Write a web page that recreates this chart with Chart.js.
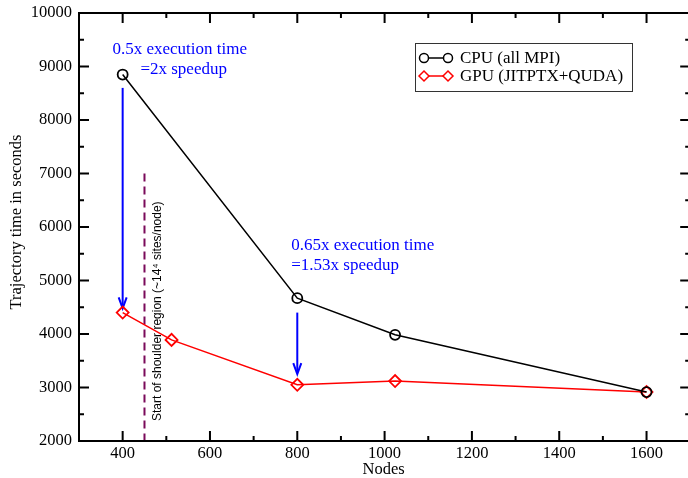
<!DOCTYPE html>
<html><head><meta charset="utf-8">
<script src="https://cdn.jsdelivr.net/npm/chart.js@4/dist/chart.umd.min.js"></script>
<style>html,body{margin:0;padding:0;background:#fff;overflow:hidden}#wrap{width:698px;height:478px}</style>
</head><body><div id="wrap"><canvas id="c" width="698" height="478"></canvas></div>
<script>
const nodesCPU = [400, 800, 1024, 1600];
const timeCPU = [8850, 4670, 3985, 2915];
const nodesGPU = [400, 512, 800, 1024, 1600];
const timeGPU = [4400, 3890, 3050, 3120, 2915];
const xTickValues = [400, 600, 800, 1000, 1200, 1400, 1600];
const yTickValues = [2000, 3000, 4000, 5000, 6000, 7000, 8000, 9000, 10000];
const seriesLabels = ['CPU (all MPI)', 'GPU (JITPTX+QUDA)'];
const xTitle = 'Nodes';
const yTitle = 'Trajectory time in seconds';
const shoulderX = 450, shoulderTop = 7000;
const shoulderText = 'Start of shoulder region (~14\u2074 sites/node)';
const arrows = [{x: 400, from: 8600, to: 4480}, {x: 800, from: 4400, to: 3250}];
const notes = [
  {x: 400, y: 9310, lines: ['0.5x execution time', '=2x speedup'], align: 'center', dx: 57},
  {x: 800, y: 5650, lines: ['0.65x execution time', '=1.53x speedup'], align: 'left', dx: -6}
];

const SERIF = '"Liberation Serif", "Times New Roman", serif';

const deco = {
  id: 'deco',
  beforeDatasetsDraw(chart) {
    const {ctx, chartArea: a, scales: {x, y}} = chart;
    ctx.save();
    // shoulder dashed line
    ctx.strokeStyle = '#7a0a5a';
    ctx.lineWidth = 2;
    ctx.setLineDash([8, 5]);
    ctx.beginPath();
    ctx.moveTo(x.getPixelForValue(shoulderX), y.getPixelForValue(shoulderTop));
    ctx.lineTo(x.getPixelForValue(shoulderX), a.bottom);
    ctx.stroke();
    ctx.setLineDash([]);
    // rotated label
    ctx.save();
    ctx.translate(x.getPixelForValue(shoulderX) + 13, a.bottom - 20);
    ctx.rotate(-Math.PI / 2);
    ctx.fillStyle = '#000';
    ctx.font = '12px "Liberation Sans", Arial, sans-serif';
    ctx.textAlign = 'left';
    ctx.textBaseline = 'middle';
    ctx.fillText(shoulderText, 0, 0);
    ctx.restore();
    // arrows
    ctx.strokeStyle = '#0000ff';
    ctx.lineWidth = 2;
    arrows.forEach(ar => {
      const px = x.getPixelForValue(ar.x);
      const y0 = y.getPixelForValue(ar.from), y1 = y.getPixelForValue(ar.to);
      ctx.beginPath(); ctx.moveTo(px, y0); ctx.lineTo(px, y1 - 2); ctx.stroke();
      ctx.beginPath();
      ctx.moveTo(px - 4, y1 - 11); ctx.lineTo(px, y1); ctx.lineTo(px + 4, y1 - 11);
      ctx.stroke();
    });
    // notes
    ctx.fillStyle = '#0000ff';
    ctx.font = '17px ' + SERIF;
    ctx.textBaseline = 'middle';
    notes.forEach(n => {
      ctx.textAlign = n.align;
      const px = x.getPixelForValue(n.x) + n.dx;
      const py = y.getPixelForValue(n.y);
      n.lines.forEach((t, i) => ctx.fillText(t, px + (i === 1 && n.align === 'center' ? 4 : 0), py + i * 19.5));
    });
    ctx.restore();
  },
  afterDraw(chart) {
    const {ctx, chartArea: a, scales: {x, y}} = chart;
    ctx.save();
    ctx.strokeStyle = '#000';
    ctx.lineWidth = 2;
    ctx.strokeRect(a.left, a.top, a.right - a.left, a.bottom - a.top);
    const tick = (v, isX, len) => {
      ctx.beginPath();
      if (isX) {
        const p = x.getPixelForValue(v);
        ctx.moveTo(p, a.bottom); ctx.lineTo(p, a.bottom - len);
        ctx.moveTo(p, a.top); ctx.lineTo(p, a.top + len);
      } else {
        const p = y.getPixelForValue(v);
        ctx.moveTo(a.left, p); ctx.lineTo(a.left + len, p);
        ctx.moveTo(a.right, p); ctx.lineTo(a.right - len, p);
      }
      ctx.stroke();
    };
    for (let v = x.min; v <= x.max; v += 100) tick(v, true, v % 200 === 0 ? 10 : 5);
    for (let v = y.min; v <= y.max; v += 500) tick(v, false, v % 1000 === 0 ? 10 : 5);
    // tick labels
    ctx.fillStyle = '#000';
    ctx.font = '16.5px ' + SERIF;
    ctx.textAlign = 'center'; ctx.textBaseline = 'middle';
    xTickValues.forEach(v => ctx.fillText(String(v), x.getPixelForValue(v), a.bottom + 13));
    ctx.textAlign = 'right';
    yTickValues.forEach(v => ctx.fillText(String(v), a.left - 7, y.getPixelForValue(v)));
    // axis titles
    ctx.textAlign = 'center';
    ctx.fillText(xTitle, x.getPixelForValue(1000) - 1, a.bottom + 29);
    ctx.save();
    ctx.translate(17, 222);
    ctx.rotate(-Math.PI / 2);
    ctx.fillText(yTitle, 0, 0);
    ctx.restore();
    // legend
    const lx = 415, ly = 43, lw = 217, lh = 48;
    ctx.lineWidth = 1;
    ctx.strokeStyle = '#333';
    ctx.strokeRect(lx + 0.5, ly + 0.5, lw, lh);
    ctx.font = '17px ' + SERIF;
    ctx.textAlign = 'left';
    ctx.textBaseline = 'middle';
    chart.data.datasets.forEach((ds, i) => {
      const cy = ly + 15 + i * 18;
      ctx.strokeStyle = ds.borderColor;
      ctx.lineWidth = 1.5;
      ctx.beginPath(); ctx.moveTo(424, cy); ctx.lineTo(448, cy); ctx.stroke();
      [424, 448].forEach(mx => {
        ctx.beginPath();
        if (i === 0) { ctx.arc(mx, cy, 4.5, 0, Math.PI * 2); }
        else { ctx.moveTo(mx - 5, cy); ctx.lineTo(mx, cy - 5); ctx.lineTo(mx + 5, cy); ctx.lineTo(mx, cy + 5); ctx.closePath(); }
        ctx.fillStyle = '#fff'; ctx.fill(); ctx.stroke();
      });
      ctx.fillStyle = '#000';
      ctx.fillText(ds.label, 460, cy + 1);
    });
    ctx.restore();
  }
};

new Chart(document.getElementById('c'), {
  type: 'line',
  data: {
    datasets: [
      {label: seriesLabels[0], data: nodesCPU.map((n, i) => ({x: n, y: timeCPU[i]})),
       borderColor: '#000', backgroundColor: '#fff', borderWidth: 1.5, pointStyle: 'circle',
       pointRadius: 5, pointBorderWidth: 1.8, pointBackgroundColor: 'rgba(255,255,255,0)', tension: 0},
      {label: seriesLabels[1], data: nodesGPU.map((n, i) => ({x: n, y: timeGPU[i]})),
       borderColor: '#ff0000', backgroundColor: '#fff', borderWidth: 1.5, pointStyle: 'rectRot',
       pointRadius: 6, pointBorderWidth: 1.8, pointBackgroundColor: 'rgba(255,255,255,0)', tension: 0}
    ]
  },
  options: {
    responsive: false, animation: false,
    layout: {padding: {top: 13, right: 0, left: 79, bottom: 37}},
    plugins: {legend: {display: false}, tooltip: {enabled: false}},
    scales: {
      x: {type: 'linear', min: 300, max: 1700, display: false,
          afterBuildTicks: s => { s.ticks = xTickValues.map(v => ({value: v})); }},
      y: {type: 'linear', min: 2000, max: 10000, display: false,
          afterBuildTicks: s => { s.ticks = yTickValues.map(v => ({value: v})); }}
    }
  },
  plugins: [deco]
});
</script></body></html>
